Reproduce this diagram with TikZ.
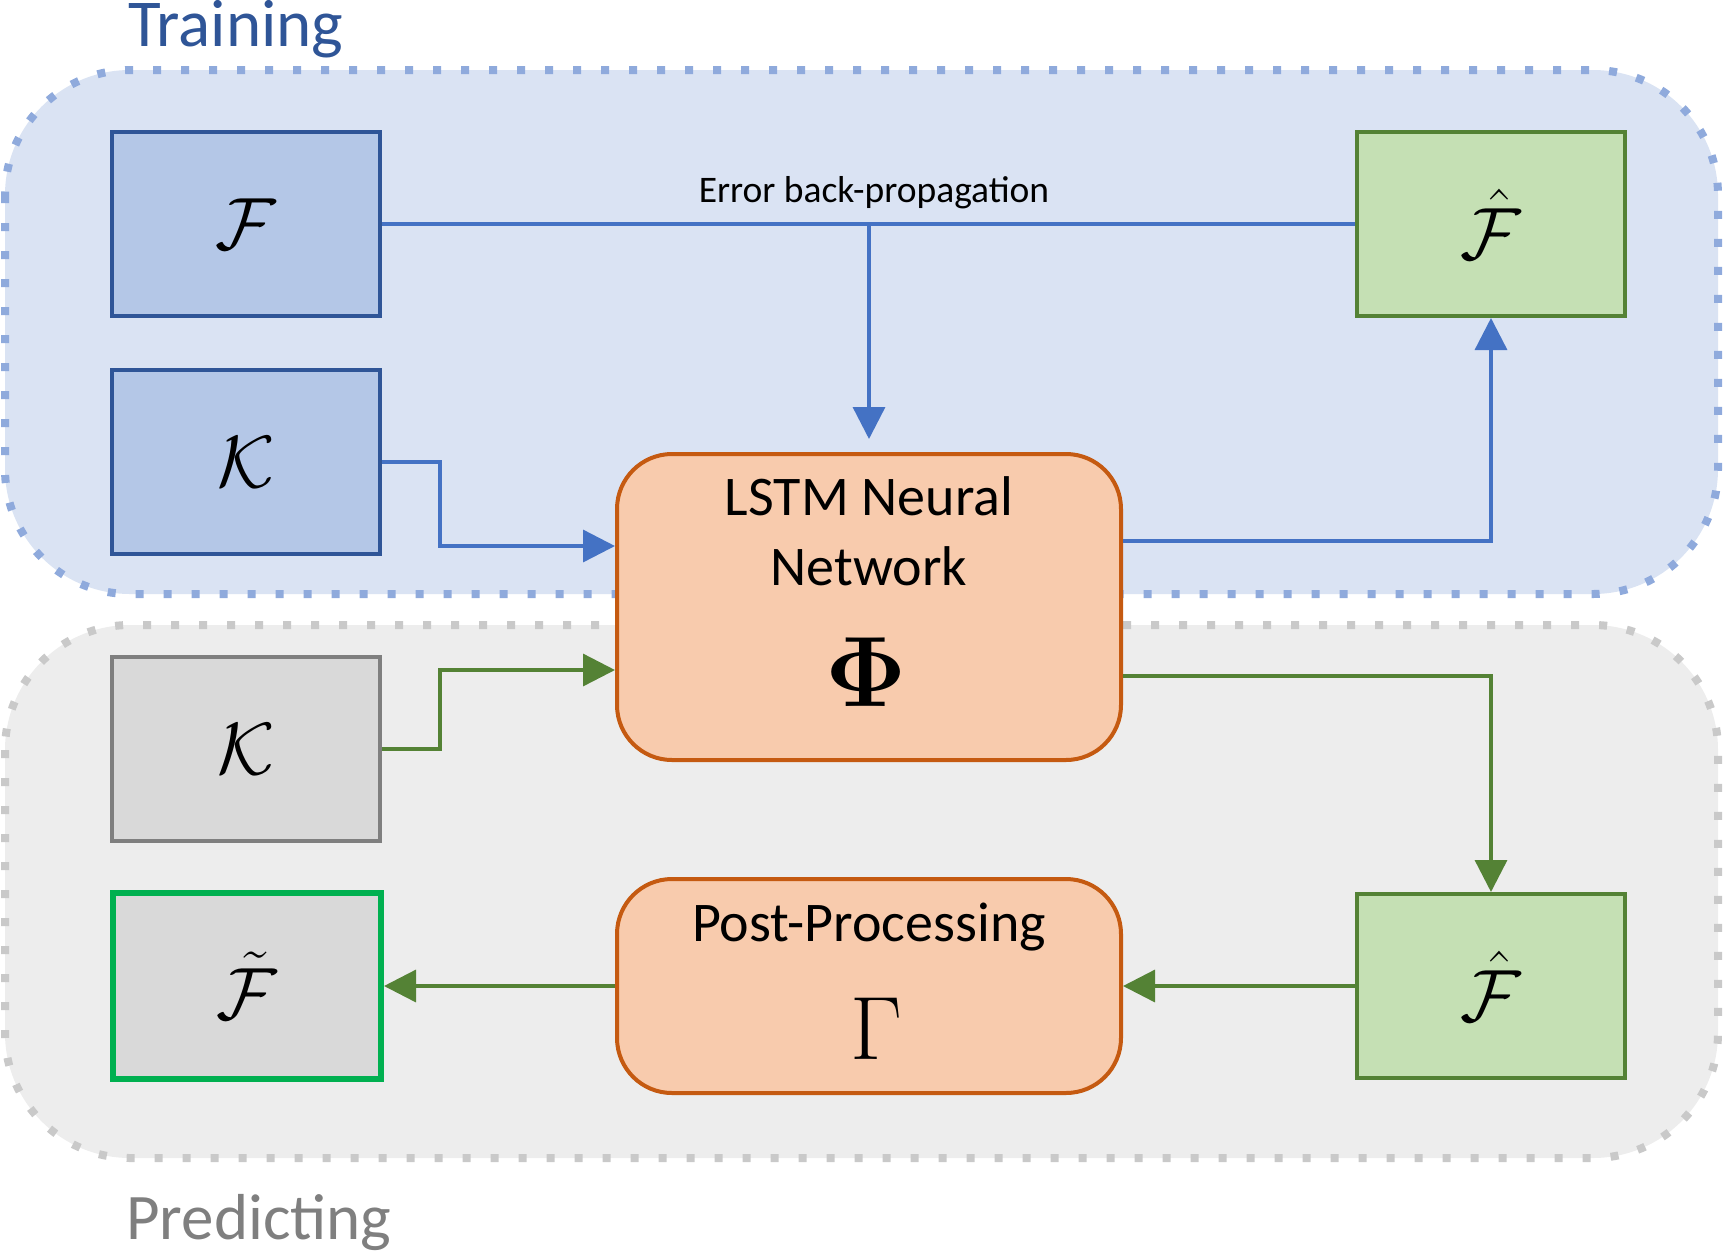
\RequirePackage{fix-cm}
\documentclass[tikz,border=0pt]{standalone}
\usepackage[no-math]{fontspec}
\setmainfont{Carlito}
\usetikzlibrary{arrows.meta}
\definecolor{bgblue}{HTML}{DAE3F3}
\definecolor{dotblue}{HTML}{8FAADC}
\definecolor{bggray}{HTML}{EDEDED}
\definecolor{dotgray}{HTML}{C9C9C9}
\definecolor{lineblue}{HTML}{4472C4}
\definecolor{linegreen}{HTML}{548235}
\definecolor{boxblue}{HTML}{B4C7E7}
\definecolor{boxblueborder}{HTML}{2F5597}
\definecolor{boxgreen}{HTML}{C5E0B4}
\definecolor{boxgray}{HTML}{D9D9D9}
\definecolor{boxgrayborder}{HTML}{7F7F7F}
\definecolor{brightgreen}{HTML}{00B050}
\definecolor{boxorange}{HTML}{F8CBAD}
\definecolor{orangeborder}{HTML}{C55A11}
\definecolor{titleblue}{HTML}{2F5597}
\definecolor{titlegray}{HTML}{7F7F7F}
\tikzset{
  region/.style={line width=8pt, dash pattern=on 8pt off 20pt, rounded corners=125pt},
  sqbox/.style={rectangle, line width=4pt, minimum width=268pt, minimum height=184pt, inner sep=0pt,
    font=\fontsize{74}{80}\selectfont},
  bluebox/.style={sqbox, fill=boxblue, draw=boxblueborder},
  greenbox/.style={sqbox, fill=boxgreen, draw=linegreen},
  graybox/.style={sqbox, fill=boxgray, draw=boxgrayborder},
  procbox/.style={rectangle, rounded corners=55pt, line width=4pt, fill=boxorange, draw=orangeborder,
    minimum width=504pt, inner sep=0pt},
  conn/.style={line width=3.4pt},
  tip/.style={-{Triangle[length=32pt,width=32pt]}},
  bigtxt/.style={inner sep=0pt, anchor=base, font=\fontsize{56}{60}\selectfont},
}
\begin{document}
\begin{tikzpicture}[x=1pt,y=-1pt]
\useasboundingbox (0,0) rectangle (1725,1254);
% regions
\draw[region, fill=bgblue, draw=dotblue] (5,70) rectangle (1718,594);
\draw[region, fill=bggray, draw=dotgray] (5,625) rectangle (1718,1158);
\node[inner sep=0pt, anchor=base west, text=titleblue, font=\fontsize{67}{72}\selectfont] (ttrain) at (128,46) {Training};
\node[inner sep=0pt, anchor=base west, text=titlegray, font=\fontsize{65}{70}\selectfont] (tpred) at (126,1239) {Predicting};
% boxes
\node[bluebox] (F) at (246,224) {$\mathcal{F}$};
\node[bluebox] (K1) at (246,462) {$\mathcal{K}$};
\node[greenbox] (Fh1) at (1491,224) {$\hat{\mathcal{F}}$};
\node[procbox, minimum height=306pt] (LSTM) at (869,607) {};
\node[graybox] (K2) at (246,749) {$\mathcal{K}$};
\node[sqbox, fill=boxgray, draw=brightgreen, line width=6pt, minimum width=268pt, minimum height=186pt] (Ft) at (247,986) {$\tilde{\mathcal{F}}$};
\node[procbox, minimum height=214pt] (Post) at (869,986) {};
\node[greenbox] (Fh2) at (1491,986) {$\hat{\mathcal{F}}$};
% texts in process boxes
\node[bigtxt] (l1) at (869,515) {LSTM Neural};
\node[bigtxt] (l2) at (869,585) {Network};
\node[inner sep=0pt, font=\fontsize{100}{110}\selectfont] (phi) at (866,672) {$\mathbf{\Phi}$};
\node[bigtxt] (pp) at (869,941) {Post-Processing};
\node[inner sep=0pt, font=\fontsize{90}{95}\selectfont] (gam) at (876,1029) {$\Gamma$};
% error back-propagation
\node[inner sep=0pt, anchor=base, font=\fontsize{37.5}{40}\selectfont] (ebl) at (874,202) {Error back-propagation};
\coordinate (ebp) at (869,224);
\draw[conn, draw=lineblue] (F.east) -- (Fh1.west);
\draw[conn, draw=lineblue, tip] (ebp) -- ([yshift=13pt]LSTM.north);
% training connectors
\coordinate (c546) at (440,546);
\coordinate (c541) at (1400,541);
\draw[conn, draw=lineblue, tip] (K1.east) -| (c546) -- (LSTM.west |- c546);
\draw[conn, draw=lineblue, tip] (LSTM.east |- c541) -| (Fh1.south);
% predicting connectors
\coordinate (c670) at (440,670);
\coordinate (c676) at (1400,676);
\draw[conn, draw=linegreen, tip] (K2.east) -| (c670) -- (LSTM.west |- c670);
\draw[conn, draw=linegreen, tip] (LSTM.east |- c676) -| (Fh2.north);
\draw[conn, draw=linegreen, tip] (Fh2.west) -- (Post.east);
\draw[conn, draw=linegreen, tip] (Post.west) -- (Ft.east);
\end{tikzpicture}
\end{document}
